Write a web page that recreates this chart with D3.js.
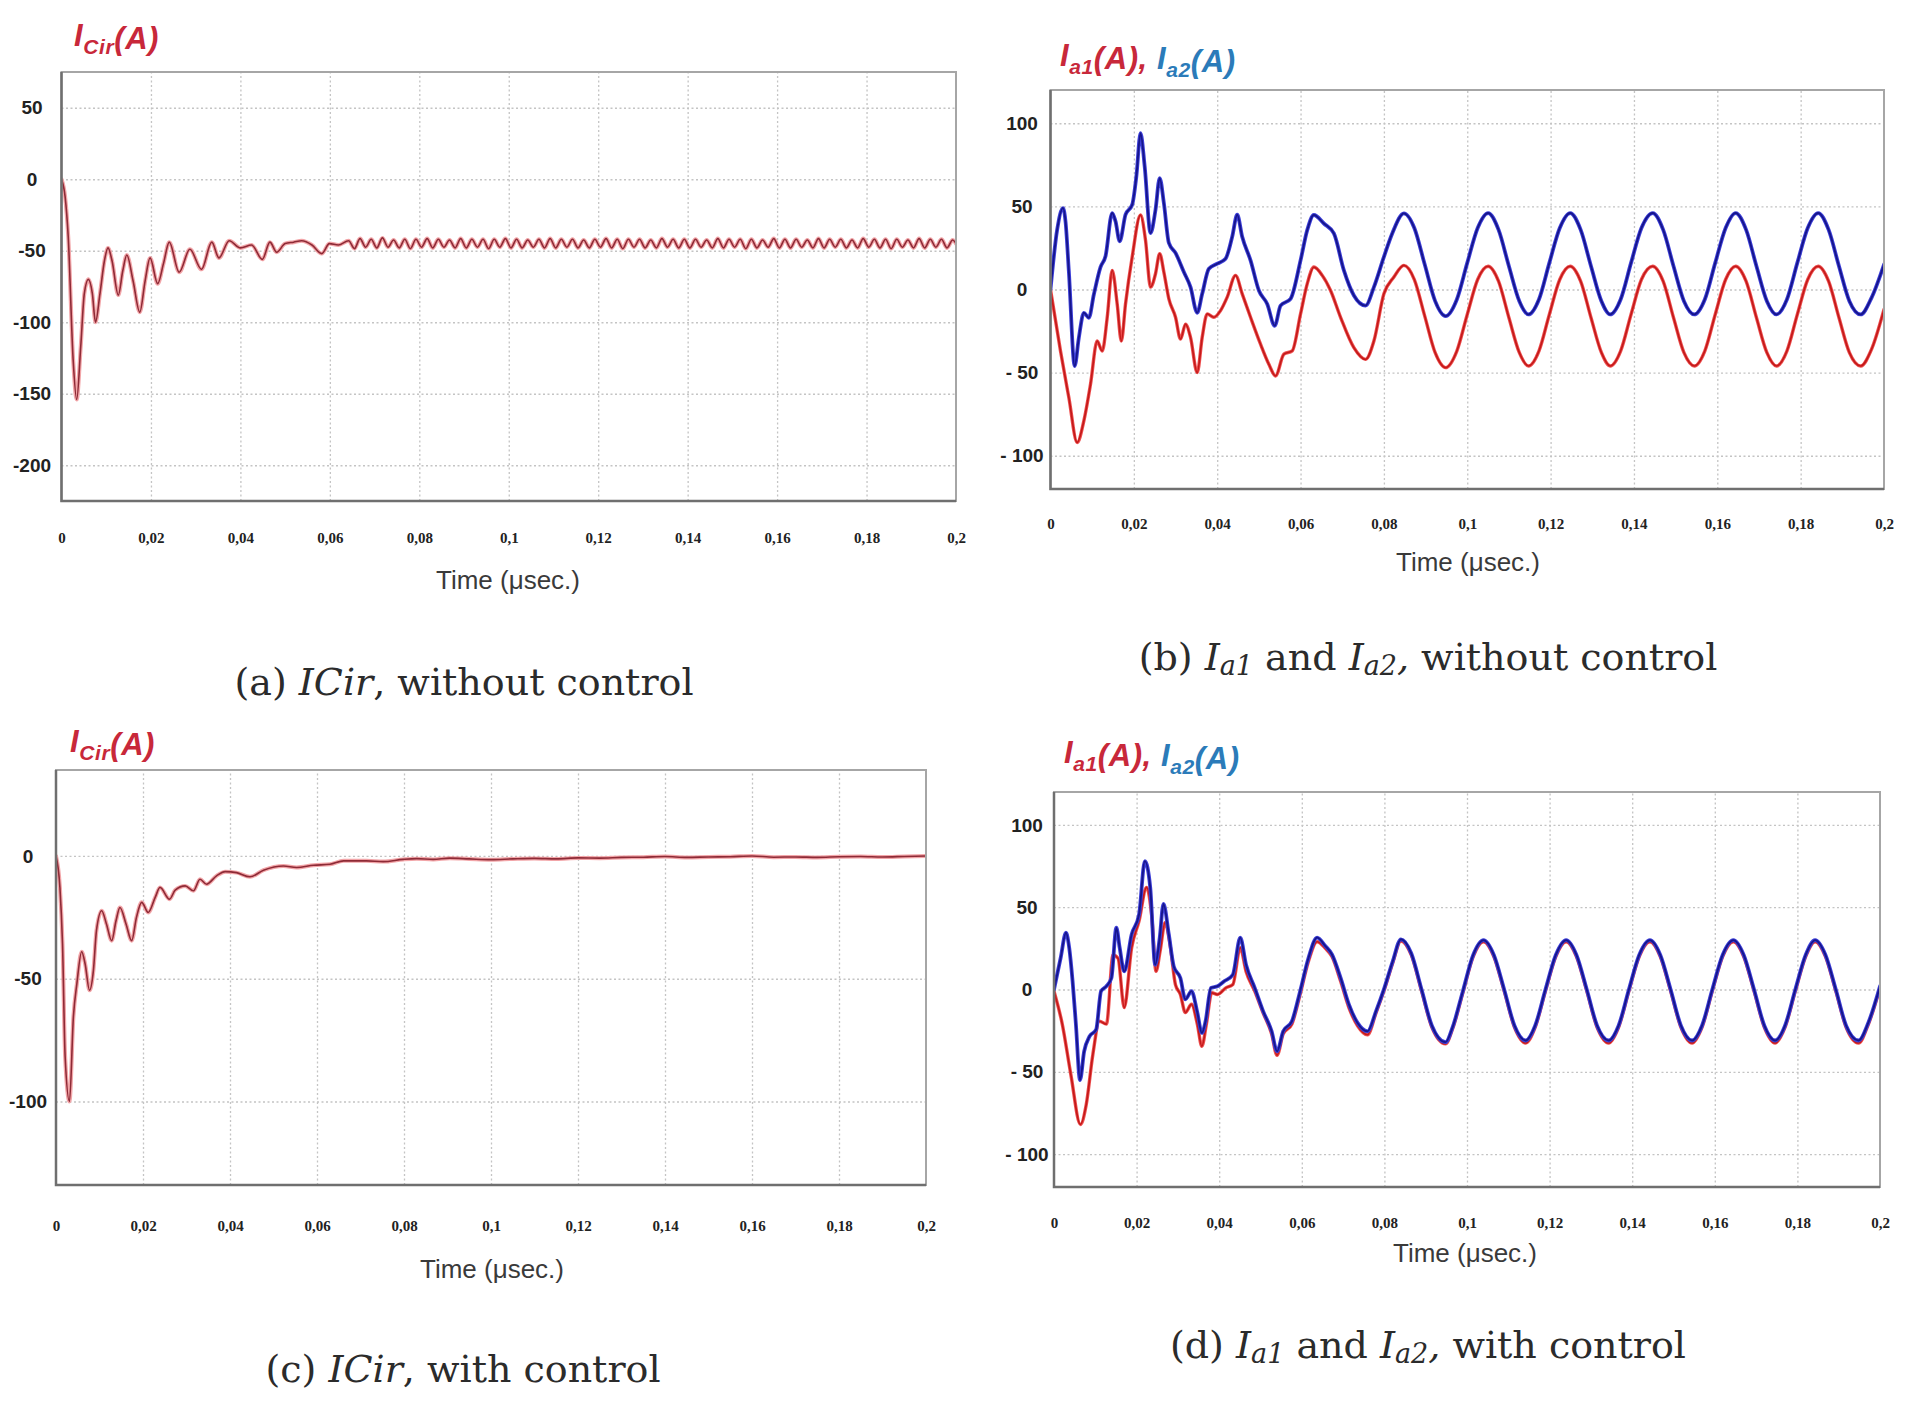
<!DOCTYPE html>
<html>
<head>
<meta charset="utf-8">
<script src="https://cdn.jsdelivr.net/npm/d3@7"></script>
<style>
  body { margin: 0; background: #fff; }
  svg { display: block; }
</style>
</head>
<body>
<svg id="fig" width="1920" height="1403"></svg>
<script>
// ---- data ----
const timeTicks = [0, 0.02, 0.04, 0.06, 0.08, 0.1, 0.12, 0.14, 0.16, 0.18, 0.2];
const timeTickLabels = ['0', '0,02', '0,04', '0,06', '0,08', '0,1', '0,12', '0,14', '0,16', '0,18', '0,2'];

const yTicksA = [50, 0, -50, -100, -150, -200];
const yLabelsA = ['50', '0', '-50', '-100', '-150', '-200'];
const yTicksB = [100, 50, 0, -50, -100];
const yLabelsB = ['100', '50', '0', '- 50', '- 100'];
const yTicksC = [0, -50, -100];
const yLabelsC = ['0', '-50', '-100'];

// (a) circulating current, no control
const iCirNoCtrl = [
  [0,0],[0.0008,-12],[0.0015,-40],[0.0026,-126],[0.0034,-154],[0.0043,-117],[0.0051,-80],[0.006,-70],
  [0.0069,-80],[0.0076,-100],[0.0086,-80],[0.0096,-57],[0.0104,-48],[0.0113,-57],[0.0127,-81],[0.0137,-64],
  [0.0146,-53],[0.016,-71],[0.0175,-93],[0.0187,-71],[0.0198,-55],[0.0215,-73],[0.0228,-59],[0.0241,-44],
  [0.0263,-65],[0.0287,-49],[0.0313,-63],[0.0336,-44],[0.0352,-55],[0.0375,-43],[0.04,-48],[0.0425,-46],
  [0.0449,-56],[0.0466,-44],[0.0481,-51],[0.05,-45],[0.0519,-44],[0.0537,-43],[0.056,-46],[0.0582,-52],
  [0.0599,-45],[0.0619,-46],[0.0642,-43],
  [0.0655,-48.5],[0.06675,-41.5],[0.068,-47.5],[0.06925,-42],[0.0705,-48],[0.07175,-41],[0.073,-47.5],[0.07425,-42.5],
  [0.0755,-48],[0.07675,-42],[0.078,-48.5],[0.07925,-42],[0.0805,-47.5],[0.08175,-41.5],[0.083,-48],[0.08425,-42],
  [0.0855,-47.5],[0.08675,-42.5],[0.088,-48],[0.08925,-41.5],[0.0905,-48],[0.09175,-42],[0.093,-47.5],[0.09425,-42],
  [0.0955,-48.5],[0.09675,-42],[0.098,-47.5],[0.09925,-41.5],[0.1005,-48],[0.10175,-42],[0.103,-48],[0.10425,-42.5],
  [0.1055,-47.5],[0.10675,-42],[0.108,-48],[0.10925,-41.5],[0.1105,-48],[0.11175,-42],[0.113,-47.5],[0.11425,-42],
  [0.1155,-48],[0.11675,-42.5],[0.118,-48],[0.11925,-42],[0.1205,-47.5],[0.12175,-41.5],[0.123,-48],[0.12425,-42],
  [0.1255,-48.5],[0.12675,-42],[0.128,-47.5],[0.12925,-42],[0.1305,-48],[0.13175,-42.5],[0.133,-48],[0.13425,-41.5],
  [0.1355,-47.5],[0.13675,-42],[0.138,-48],[0.13925,-42],[0.1405,-48],[0.14175,-42],[0.143,-47.5],[0.14425,-42.5],
  [0.1455,-48],[0.14675,-41.5],[0.148,-48],[0.14925,-42],[0.1505,-47.5],[0.15175,-42],[0.153,-48.5],[0.15425,-42],
  [0.1555,-48],[0.15675,-42.5],[0.158,-47.5],[0.15925,-41.5],[0.1605,-48],[0.16175,-42],[0.163,-48],[0.16425,-42],
  [0.1655,-47.5],[0.16675,-42.5],[0.168,-48],[0.16925,-41.5],[0.1705,-48],[0.17175,-42],[0.173,-47.5],[0.17425,-42],
  [0.1755,-48],[0.17675,-42.5],[0.178,-48],[0.17925,-41.5],[0.1805,-47.5],[0.18175,-42],[0.183,-48],[0.18425,-42],
  [0.1855,-48.5],[0.18675,-42],[0.188,-47.5],[0.18925,-42.5],[0.1905,-48],[0.19175,-41.5],[0.193,-48],[0.19425,-42],
  [0.1955,-47.5],[0.19675,-42],[0.198,-48],[0.19925,-42.5],[0.2,-45]
];

// (b) arm currents, no control
const ia1NoCtrl = [
  [0,0],[0.0024,-37],[0.0044,-65],[0.0064,-92],[0.008,-79],[0.0096,-57],[0.0112,-31],[0.0124,-37],
  [0.0136,-17],[0.0148,11.5],[0.016,-8.7],[0.017,-31],[0.018,-8.7],[0.0196,19.6],[0.0216,44.8],[0.0228,29.6],
  [0.024,1.4],[0.0252,9.5],[0.0262,21.6],[0.0272,10.5],[0.0284,-5.6],[0.03,-16.7],[0.0312,-29.8],[0.0324,-20.8],
  [0.0336,-28.8],[0.0352,-50],[0.0364,-28.8],[0.0376,-14.7],[0.0392,-16.7],[0.0408,-12.7],[0.0424,-4.6],[0.0444,8.5],
  [0.046,-2.6],[0.048,-16.7],[0.0504,-32.9],[0.0524,-45],[0.054,-52],[0.056,-38.9],[0.058,-36.9],[0.06,-14.7],
  [0.0616,3.4],[0.0632,13.5],[0.0652,8.5],[0.0672,-0.6],[0.0696,-16.7],[0.0728,-35],[0.0756,-42],[0.0776,-31],
  [0.08,-2.6],[0.0824,7.5],[0.0848,14.5],[0.0873,6],[0.0898,-16],[0.0923,-38],[0.0948,-47],[0.0975,-37],
  [0.1,-15],[0.1025,6],[0.105,14],[0.1075,5],[0.11,-17],[0.1125,-38],[0.1147,-46],[0.1172,-37],
  [0.1197,-15],[0.1222,6],[0.1247,14],[0.1272,5],[0.1297,-17],[0.1322,-38],[0.1343,-46],[0.1368,-37],
  [0.1393,-15],[0.1418,6],[0.1445,14],[0.147,5],[0.1495,-17],[0.152,-38],[0.1545,-46],[0.157,-37],
  [0.1595,-15],[0.162,6],[0.1644,14],[0.1669,5],[0.1694,-17],[0.1719,-38],[0.1742,-46],[0.1767,-37],
  [0.1792,-15],[0.1817,6],[0.1842,14],[0.1867,5],[0.1892,-17],[0.1917,-38],[0.1944,-46],[0.197,-36],[0.2,-12]
];
const ia2NoCtrl = [
  [0,0],[0.0016,36],[0.003,49],[0.0036,41],[0.0044,11],[0.0058,-46],[0.0068,-29],[0.008,-14],
  [0.0092,-17],[0.0104,-3],[0.012,13.5],[0.0132,20],[0.0148,46],[0.0156,41],[0.0166,29],[0.018,45],
  [0.0196,51],[0.0206,68],[0.0216,94],[0.0226,74],[0.024,34],[0.0252,48],[0.0262,67],[0.0272,52],
  [0.0284,28],[0.03,22],[0.032,10.5],[0.0336,1.4],[0.0352,-14],[0.0364,-2.6],[0.038,12.5],[0.04,15.5],
  [0.042,18.5],[0.0436,31.7],[0.0448,45],[0.046,31.7],[0.048,17.5],[0.05,-0.6],[0.052,-8.7],[0.0538,-21.8],
  [0.0552,-9.7],[0.0576,-5.6],[0.06,17.5],[0.0616,35.7],[0.0632,44.8],[0.0656,39.7],[0.068,33.7],[0.0704,11.5],
  [0.0728,-3.6],[0.0756,-9.7],[0.0776,1.4],[0.08,19.6],[0.082,33.7],[0.0848,45.8],[0.0873,37],[0.0898,15],
  [0.0923,-7],[0.0948,-16],[0.0975,-6],[0.1,16],[0.1025,37],[0.105,46],[0.1075,36],[0.11,14],
  [0.1125,-7],[0.1147,-15],[0.1172,-6],[0.1197,16],[0.1222,37],[0.1247,46],[0.1272,36],[0.1297,14],
  [0.1322,-7],[0.1343,-15],[0.1368,-6],[0.1393,16],[0.1418,37],[0.1445,46],[0.147,36],[0.1495,14],
  [0.152,-7],[0.1545,-15],[0.157,-6],[0.1595,16],[0.162,37],[0.1644,46],[0.1669,36],[0.1694,14],
  [0.1719,-7],[0.1742,-15],[0.1767,-6],[0.1792,16],[0.1817,37],[0.1842,46],[0.1867,36],[0.1892,14],
  [0.1917,-7],[0.1944,-15],[0.197,-5],[0.2,15]
];

// (c) circulating current, with control
const iCirCtrl = [
  [0,0],[0.0009,-12.8],[0.0015,-35.8],[0.0021,-81.8],[0.0031,-100],[0.004,-65.5],[0.0048,-52],[0.0059,-39],
  [0.0067,-44],[0.0077,-54.7],[0.0086,-46.6],[0.0093,-30.4],[0.0105,-22.3],[0.0116,-27.7],[0.0128,-34.5],[0.0138,-26.4],
  [0.0147,-21],[0.0161,-27.7],[0.0174,-34.5],[0.0185,-25],[0.0197,-18.9],[0.0212,-23],[0.0228,-16.9],[0.0239,-12.8],
  [0.0261,-17.6],[0.0274,-13.9],[0.0297,-12.2],[0.0316,-14.2],[0.0331,-9.5],[0.0346,-11.5],[0.0369,-8.1],[0.0389,-6.4],
  [0.0415,-6.8],[0.0446,-8.5],[0.0477,-5.8],[0.0523,-4.1],[0.0553,-4.7],[0.0592,-3.8],[0.063,-3.4],[0.0661,-2],
  [0.0714,-2],[0.0752,-2.3],[0.0798,-1.4],[0.0829,-1.1],[0.0867,-1.4],[0.0905,-0.9],[0.095,-1.2],[0.1,-1.5],
  [0.105,-1.2],[0.11,-1],[0.115,-1.2],[0.12,-0.8],[0.125,-0.9],[0.13,-0.6],[0.135,-0.5],[0.14,-0.2],
  [0.145,-0.6],[0.15,-0.4],[0.155,-0.3],[0.16,0],[0.165,-0.5],[0.17,-0.4],[0.175,-0.6],[0.18,-0.3],
  [0.185,-0.2],[0.19,-0.4],[0.195,-0.2],[0.2,0]
];

// (d) arm currents, with control
const ia1Ctrl = [
  [0,-1],[0.002,-21],[0.0041,-52],[0.0064,-82],[0.0078,-70],[0.0094,-39.6],[0.011,-19.3],[0.0127,-21],
  [0.0143,21],[0.0155,19],[0.017,-11],[0.0188,25.4],[0.0206,41.7],[0.0224,62],[0.0237,43.7],[0.0247,11],
  [0.0257,23.4],[0.0269,40.7],[0.0282,25.4],[0.0294,3],[0.0306,-3],[0.0318,-14],[0.0333,-9],[0.0347,-21],
  [0.0358,-34.5],[0.0369,-21],[0.0382,-2],[0.0396,-3],[0.0416,1],[0.0433,3],[0.0451,25.4],[0.0465,11],
  [0.0486,-1],[0.0506,-14],[0.0527,-27],[0.054,-40],[0.0555,-27],[0.0576,-21],[0.0596,-3],[0.0616,17],
  [0.0637,29],[0.0657,25],[0.0673,20],[0.0694,5],[0.0714,-11],[0.0735,-22],[0.0759,-27.5],[0.078,-14],
  [0.08,0],[0.082,16],[0.084,29.5],[0.0865,21],[0.089,-1],[0.0915,-23],[0.0948,-33],[0.0965,-24],
  [0.099,-2],[0.1015,20],[0.104,29],[0.1065,20],[0.109,-1],[0.1115,-23],[0.1142,-32.5],[0.1165,-23],
  [0.119,-1],[0.1215,20],[0.124,29],[0.1265,20],[0.129,-1],[0.1315,-23],[0.1343,-32.5],[0.1367,-23],
  [0.1392,-1],[0.1417,20],[0.1443,29],[0.1468,20],[0.1493,-1],[0.1518,-23],[0.1545,-32.5],[0.1569,-23],
  [0.1594,-1],[0.1619,20],[0.1645,29],[0.167,20],[0.1695,-1],[0.172,-23],[0.1746,-32.5],[0.177,-23],
  [0.1795,-1],[0.182,20],[0.1843,29],[0.1868,20],[0.1893,-1],[0.1918,-23],[0.1948,-32.5],[0.1972,-21],[0.2,1]
];
const ia2Ctrl = [
  [0,0],[0.0016,19],[0.0029,34.5],[0.0037,25],[0.0045,5],[0.0053,-21],[0.0063,-55],[0.0073,-37.6],
  [0.0086,-28.5],[0.0102,-24.4],[0.0114,-1],[0.0127,2],[0.0139,7],[0.0151,37.6],[0.0159,25.4],[0.017,11],
  [0.0188,33.5],[0.0206,45.7],[0.022,78],[0.0233,62],[0.0245,15],[0.0256,31.5],[0.0265,52],[0.0278,33.5],
  [0.029,14],[0.0306,7],[0.0318,-6],[0.0333,-1],[0.0347,-14],[0.0358,-26.4],[0.0367,-19.3],[0.038,1],
  [0.0396,2],[0.0412,5],[0.0433,9],[0.0451,31.5],[0.0465,15],[0.0486,1],[0.0506,-13],[0.0527,-25.4],
  [0.054,-37.6],[0.0555,-25.4],[0.0576,-19.3],[0.0596,-1],[0.0616,19],[0.0637,31.5],[0.0657,26.4],[0.0673,21.3],
  [0.0694,7],[0.0714,-9],[0.0735,-20.3],[0.0759,-25.4],[0.078,-13],[0.08,1],[0.082,17],[0.084,30.5],
  [0.0865,22],[0.089,0],[0.0915,-22],[0.0948,-32],[0.0965,-23],[0.099,-1],[0.1015,21],[0.104,30],
  [0.1065,21],[0.109,0],[0.1115,-22],[0.1142,-31],[0.1165,-22],[0.119,0],[0.1215,21],[0.124,30],
  [0.1265,21],[0.129,0],[0.1315,-22],[0.1343,-31],[0.1367,-22],[0.1392,0],[0.1417,21],[0.1443,30],
  [0.1468,21],[0.1493,0],[0.1518,-22],[0.1545,-31],[0.1569,-22],[0.1594,0],[0.1619,21],[0.1645,30],
  [0.167,21],[0.1695,0],[0.172,-22],[0.1746,-31],[0.177,-22],[0.1795,0],[0.182,21],[0.1843,30],
  [0.1868,21],[0.1893,0],[0.1918,-22],[0.1948,-31],[0.1972,-20],[0.2,2]
];

// ---- styles ----
const RED = '#c8283a';
const BLUE = '#2b7bb9';
const SANS = '"Liberation Sans", Arial, sans-serif';
const SERIF = '"DejaVu Serif", serif';

const circStyle = [{ color: '#f2a5a8', width: 4 }, { color: '#8e2a36', width: 1.6 }];
const redStyle = [{ color: '#ee5050', width: 3.4 }, { color: '#c41a1a', width: 1.7 }];
const blueStyle = [{ color: '#3d3fd8', width: 3.8 }, { color: '#16158c', width: 1.9 }];

// ---- layout ----
const panels = [
  {
    id: 'a', x0: 61.5, x1: 956, y0: 72, y1: 501, yDomain: [-225, 75],
    yTicks: yTicksA, yLabels: yLabelsA, yLabelX: 32, xTickY: 543,
    timeX: 508, timeY: 589, capX: 464, capY: 695, titleX: 74, titleY: 46,
    title: 'cir', caption: 'cir-no', series: [{ data: iCirNoCtrl, style: circStyle }]
  },
  {
    id: 'b', x0: 1050.5, x1: 1884, y0: 90, y1: 489, yDomain: [-120, 120],
    yTicks: yTicksB, yLabels: yLabelsB, yLabelX: 1022, xTickY: 529,
    timeX: 1468, timeY: 571, capX: 1428, capY: 670, titleX: 1060, titleY: 66,
    title: 'arm', caption: 'arm-no',
    series: [{ data: ia1NoCtrl, style: redStyle }, { data: ia2NoCtrl, style: blueStyle }]
  },
  {
    id: 'c', x0: 56, x1: 926, y0: 770, y1: 1185, yDomain: [-134, 35],
    yTicks: yTicksC, yLabels: yLabelsC, yLabelX: 28, xTickY: 1231,
    timeX: 492, timeY: 1278, capX: 463, capY: 1382, titleX: 70, titleY: 752,
    title: 'cir', caption: 'cir-ctrl', series: [{ data: iCirCtrl, style: circStyle }]
  },
  {
    id: 'd', x0: 1054, x1: 1880, y0: 792, y1: 1187, yDomain: [-120, 120],
    yTicks: yTicksB, yLabels: yLabelsB, yLabelX: 1027, xTickY: 1228,
    timeX: 1465, timeY: 1262, capX: 1428, capY: 1358, titleX: 1064, titleY: 763,
    title: 'arm', caption: 'arm-ctrl',
    series: [{ data: ia1Ctrl, style: redStyle }, { data: ia2Ctrl, style: blueStyle }]
  }
];

const svg = d3.select('#fig');
const defs = svg.append('defs');

function drawTitle(g, p) {
  const t = g.append('text')
    .attr('x', p.titleX).attr('y', p.titleY)
    .attr('font-family', SANS).attr('font-weight', 'bold').attr('font-style', 'italic')
    .attr('font-size', 31).attr('letter-spacing', 0.6);
  const part = (txt, color, sub) => {
    t.append('tspan').attr('fill', color).text('I');
    t.append('tspan').attr('fill', color).attr('font-size', 21).attr('dy', 8).text(sub);
    t.append('tspan').attr('fill', color).attr('dy', -5).text(txt);
    t.append('tspan').attr('dy', -3).text('');
  };
  if (p.title === 'cir') {
    part('(A)', RED, 'Cir');
  } else {
    part('(A), ', RED, 'a1');
    part('(A)', BLUE, 'a2');
  }
}

function drawCaption(g, p) {
  const t = g.append('text')
    .attr('x', p.capX).attr('y', p.capY).attr('text-anchor', 'middle')
    .attr('font-family', SERIF).attr('font-size', 38).attr('fill', '#2b2b2b');
  const letter = { 'cir-no': 'a', 'arm-no': 'b', 'cir-ctrl': 'c', 'arm-ctrl': 'd' }[p.caption];
  const tail = p.caption.endsWith('no') ? 'without control' : 'with control';
  t.append('tspan').text(`(${letter}) `);
  if (p.title === 'cir') {
    t.append('tspan').attr('font-style', 'italic').text('ICir');
    t.append('tspan').text(`, ${tail}`);
  } else {
    t.append('tspan').attr('font-style', 'italic').text('I');
    t.append('tspan').attr('font-style', 'italic').attr('font-size', 27).attr('dy', 5).text('a1');
    t.append('tspan').attr('dy', -5).text(' and ');
    t.append('tspan').attr('font-style', 'italic').text('I');
    t.append('tspan').attr('font-style', 'italic').attr('font-size', 27).attr('dy', 5).text('a2');
    t.append('tspan').attr('font-style', 'italic').attr('dy', -5).text(',');
    t.append('tspan').text(` ${tail}`);
  }
}

function drawPanel(p) {
  const x = d3.scaleLinear().domain([0, 0.2]).range([p.x0, p.x1]);
  const y = d3.scaleLinear().domain(p.yDomain).range([p.y1, p.y0]);
  const w = p.x1 - p.x0, h = p.y1 - p.y0;
  const g = svg.append('g').attr('class', 'panel-' + p.id);

  g.append('rect').attr('x', p.x0).attr('y', p.y0).attr('width', w).attr('height', h).attr('fill', '#fff');

  // grid
  const styleGrid = s => {
    s.select('.domain').remove();
    s.selectAll('text').remove();
    s.selectAll('line').attr('stroke', '#c4c4c4').attr('stroke-width', 1.3).attr('stroke-dasharray', '2,2.5');
  };
  g.append('g').attr('transform', `translate(0,${p.y1})`)
    .call(d3.axisBottom(x).tickValues(timeTicks.slice(1, -1)).tickSize(-h).tickFormat(''))
    .call(styleGrid);
  g.append('g').attr('transform', `translate(${p.x0},0)`)
    .call(d3.axisLeft(y).tickValues(p.yTicks).tickSize(-w).tickFormat(''))
    .call(styleGrid);

  // curves
  defs.append('clipPath').attr('id', 'clip-' + p.id)
    .append('rect').attr('x', p.x0).attr('y', p.y0).attr('width', w).attr('height', h);
  const line = d3.line().x(d => x(d[0])).y(d => y(d[1])).curve(d3.curveMonotoneX);
  const lines = g.append('g').attr('clip-path', `url(#clip-${p.id})`);
  p.series.forEach(s => {
    s.style.forEach(st => {
      lines.append('path').datum(s.data).attr('d', line)
        .attr('fill', 'none').attr('stroke', st.color).attr('stroke-width', st.width)
        .attr('stroke-linejoin', 'round').attr('stroke-linecap', 'round');
    });
  });

  // frame
  g.append('rect').attr('x', p.x0).attr('y', p.y0).attr('width', w).attr('height', h)
    .attr('fill', 'none').attr('stroke', '#a6a6a6').attr('stroke-width', 2);
  g.append('path').attr('d', `M${p.x0},${p.y0}V${p.y1}H${p.x1}`)
    .attr('fill', 'none').attr('stroke', '#6f6f6f').attr('stroke-width', 2.5);

  // x tick labels
  g.append('g').attr('transform', `translate(0,${p.y1})`)
    .call(d3.axisBottom(x).tickValues(timeTicks).tickSize(0).tickFormat((d, i) => timeTickLabels[i]))
    .call(s => {
      s.select('.domain').remove();
      s.selectAll('text')
        .attr('y', p.xTickY - p.y1).attr('dy', null)
        .attr('font-family', '"Liberation Serif", serif').attr('font-weight', 'bold')
        .attr('font-size', 15).attr('fill', '#222');
    });

  // y tick labels
  g.append('g').attr('transform', `translate(${p.x0},0)`)
    .call(d3.axisLeft(y).tickValues(p.yTicks).tickSize(0).tickFormat((d, i) => p.yLabels[i]))
    .call(s => {
      s.select('.domain').remove();
      s.selectAll('text')
        .attr('x', p.yLabelX - p.x0).attr('text-anchor', 'middle')
        .attr('font-family', SANS).attr('font-weight', 'bold')
        .attr('font-size', 19).attr('fill', '#222');
    });

  g.append('text').attr('x', p.timeX).attr('y', p.timeY).attr('text-anchor', 'middle')
    .attr('font-family', SANS).attr('font-size', 26).attr('fill', '#3a3a3a')
    .text('Time (\u03bcsec.)');

  drawTitle(g, p);
  drawCaption(g, p);
}

panels.forEach(drawPanel);
</script>
</body>
</html>
